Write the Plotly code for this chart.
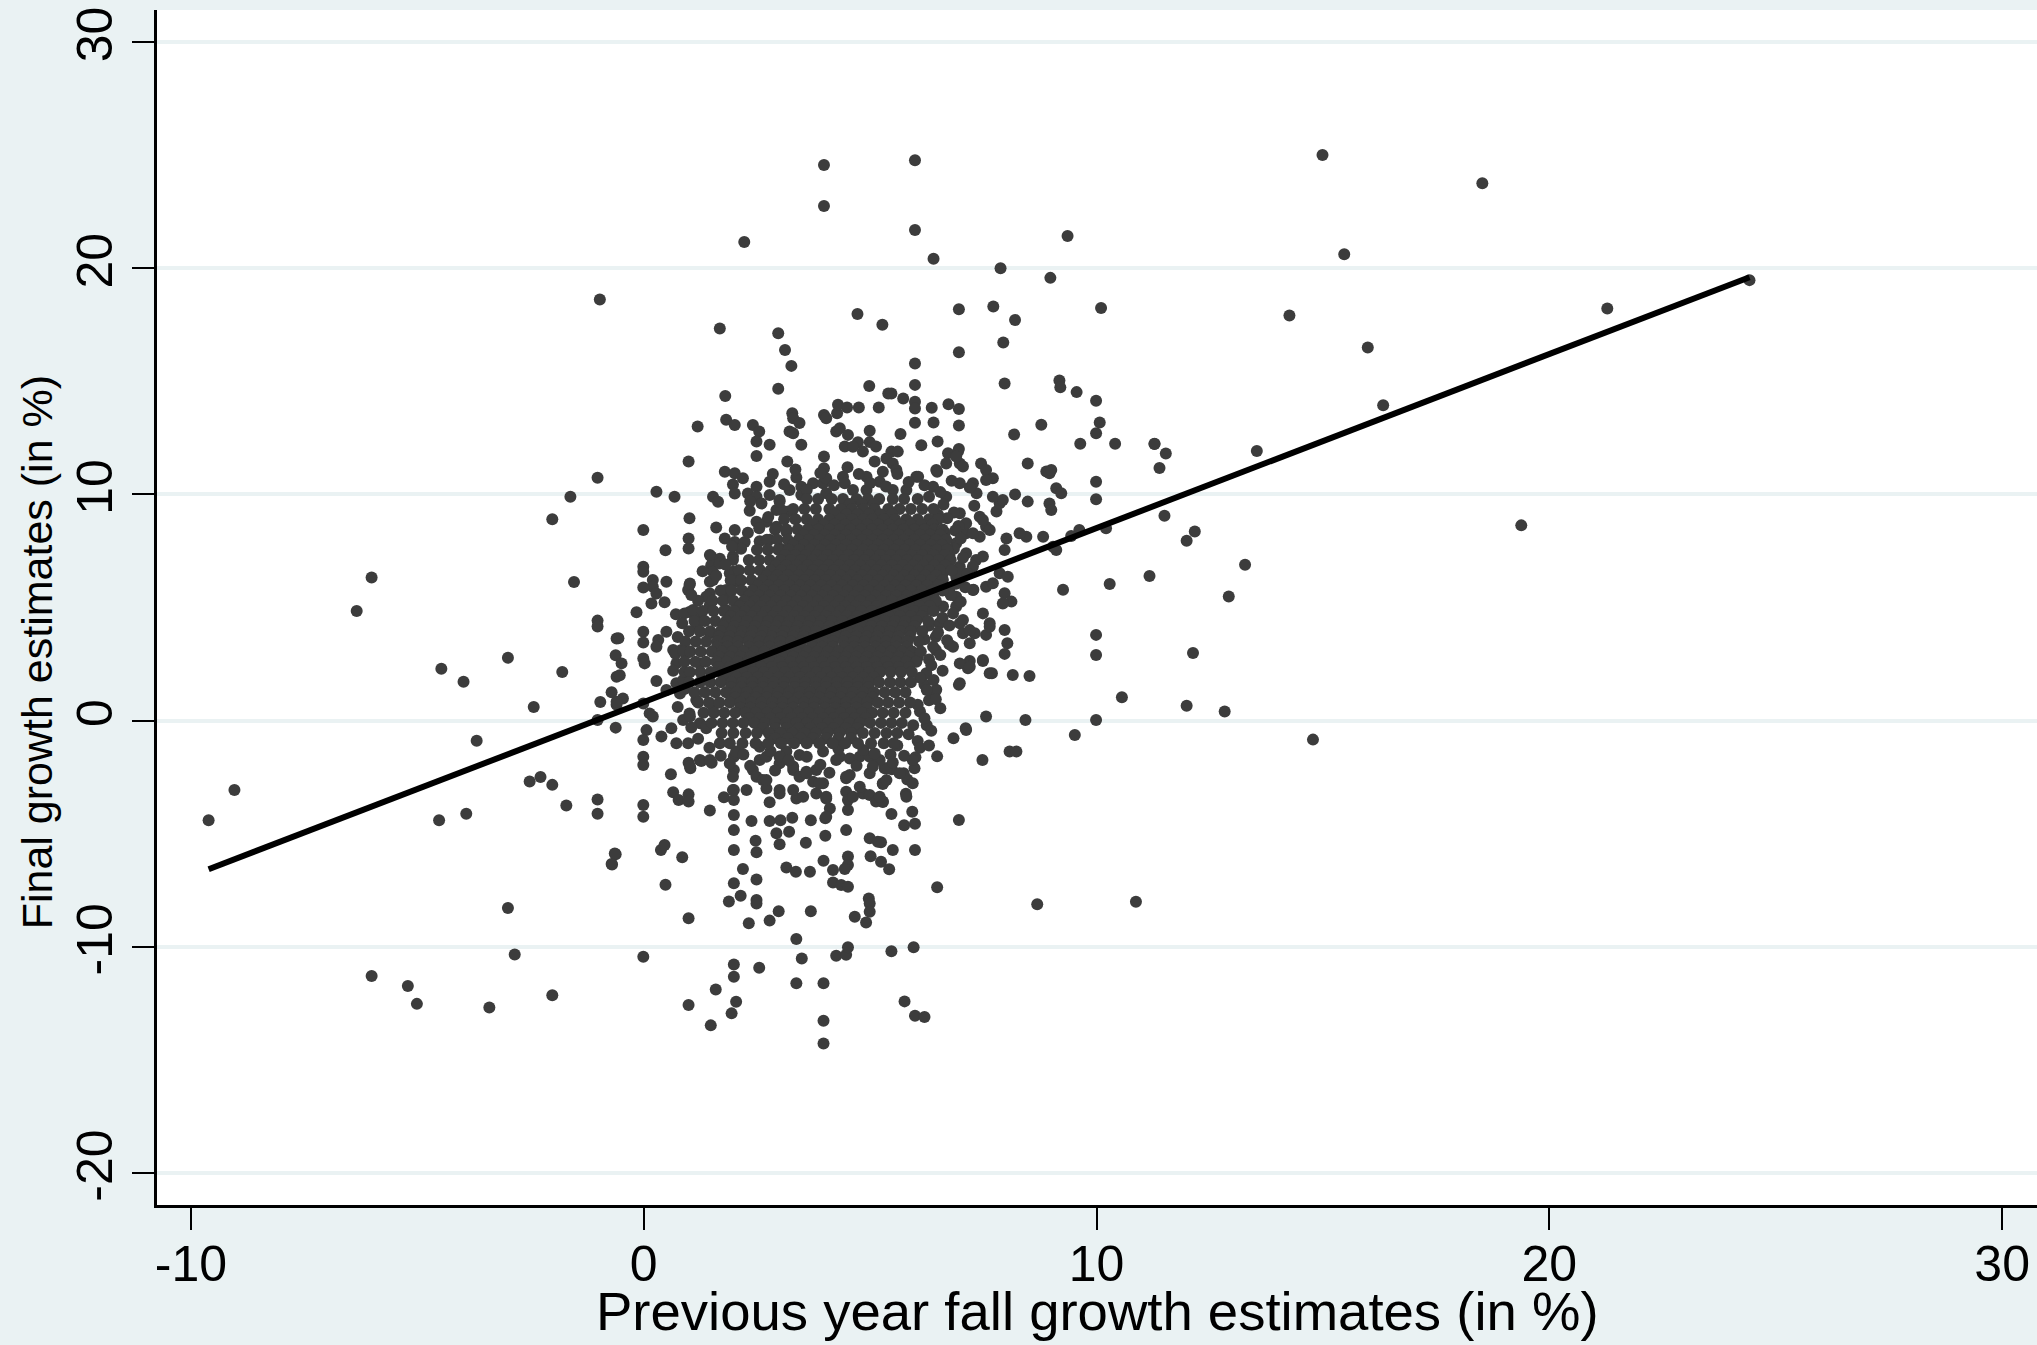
import plotly.graph_objects as go

# ---------------- data ----------------
x_ticks = [-10, 0, 10, 20, 30]
x_tick_labels = ["-10", "0", "10", "20", "30"]
y_ticks = [-20, -10, 0, 10, 20, 30]
y_tick_labels = ["-20", "-10", "0", "10", "20", "30"]

x_title = "Previous year fall growth estimates (in %)"
y_title = "Final growth estimates (in %)"

# fitted line end points (min x .. max x of the data)
fit_x = [-9.61, 24.42]
fit_y = [-6.57, 19.60]

outliers_left = [
    (-1.02, 10.74), (-1.62, 9.90), (-2.02, 8.90), (-6.01, 6.33), (-6.34, 4.85), (-1.54, 6.13),
    (-1.02, 4.42), (-1.02, 4.16), (-0.60, 3.63), (-0.62, 2.89), (-0.60, 1.94), (-4.47, 2.29),
    (-3.98, 1.72), (-3.00, 2.78), (-1.80, 2.15), (-0.71, 1.25), (-0.96, 0.82), (-0.60, 0.70),
    (-2.43, 0.60), (-1.02, 0.03), (-0.62, -0.31), (-3.69, -0.89), (-9.04, -3.07), (-9.61, -4.40),
    (-2.52, -2.69), (-2.28, -2.49), (-2.02, -2.84), (-1.71, -3.75), (-1.02, -3.49), (-1.02, -4.12),
    (-4.52, -4.40), (-3.92, -4.12), (-0.62, -5.91), (-0.71, -6.34), (-3.00, -8.28), (-2.85, -10.34),
    (-6.01, -11.29), (-5.21, -11.73), (-5.01, -12.52), (-3.41, -12.68), (-2.02, -12.14),
]

outliers_right = [
    (14.99, 25.0), (18.52, 23.75), (15.47, 20.61), (14.26, 17.91), (15.99, 16.49), (21.28, 18.22),
    (24.42, 19.47), (16.33, 13.94), (11.28, 12.23), (11.53, 11.81), (11.39, 11.17), (13.54, 11.92),
    (11.50, 9.06), (12.17, 8.36), (11.99, 7.95), (13.28, 6.89), (11.17, 6.39), (12.92, 5.49),
    (19.38, 8.63), (12.13, 2.99), (11.99, 0.66), (12.83, 0.40), (14.78, -0.84),
]

upper_points = [
    (3.98, 24.56), (3.98, 22.75), (2.22, 21.16), (-0.97, 18.61), (1.68, 17.33), (2.97, 17.12),
    (3.12, 16.38), (3.26, 15.68), (2.97, 14.67), (1.80, 14.35), (4.72, 17.97), (5.27, 17.50),
    (4.98, 14.79), (5.40, 14.46), (1.19, 13.00), (1.82, 13.30), (2.01, 13.07), (2.41, 13.07),
    (2.55, 12.78), (2.49, 12.34), (2.78, 12.19), (3.28, 13.59), (3.30, 13.37), (3.44, 13.15),
    (3.22, 12.78), (3.30, 12.70), (3.48, 12.19), (3.98, 13.51), (4.03, 13.37), (4.27, 13.59),
    (4.29, 13.96), (4.49, 13.84), (4.75, 13.84), (5.19, 13.84), (4.25, 12.78), (4.33, 12.92),
    (4.51, 12.63), (4.44, 12.12), (4.73, 12.30), (4.99, 12.31), (5.13, 12.12), (4.99, 12.81),
    (5.99, 24.77), (5.99, 21.69), (6.40, 20.42), (7.88, 20.00), (9.36, 21.42), (8.98, 19.57),
    (6.96, 18.18), (7.72, 18.30), (8.20, 17.71), (7.94, 16.71), (10.10, 18.24), (6.96, 16.28),
    (5.99, 15.79), (5.99, 14.84), (7.97, 14.90), (9.18, 15.03), (9.20, 14.73), (9.56, 14.52),
    (9.99, 14.14), (10.07, 13.18), (9.99, 12.70), (8.78, 13.08), (8.18, 12.65), (9.64, 12.24),
    (10.41, 12.24), (11.28, 12.24), (5.47, 14.46), (5.73, 14.24), (5.99, 14.09), (5.99, 13.80),
    (6.36, 13.83), (6.73, 13.98), (6.96, 13.77), (5.99, 13.17), (6.40, 13.18), (6.96, 13.04),
    (5.67, 12.67), (6.13, 12.17), (6.49, 12.34), (6.96, 12.01), (4.62, 12.11),
]

right_mid_points = [
    (8.48, 11.37), (8.89, 11.01), (8.96, 10.93), (9.00, 11.08), (9.99, 10.56), (9.99, 9.78),
    (8.20, 10.00), (8.48, 9.68), (9.11, 10.27), (9.22, 10.05), (8.96, 9.60), (9.00, 9.31),
    (10.21, 8.50), (9.62, 8.43), (9.44, 8.16), (8.82, 8.13), (9.11, 7.54), (9.04, 7.69),
    (8.45, 8.13), (8.30, 8.28), (8.01, 8.05), (7.97, 7.54), (9.26, 5.78), (10.29, 6.04),
    (9.99, 3.79), (9.99, 2.90), (10.56, 1.03), (9.99, 0.03), (9.52, -0.64), (8.43, 0.03),
    (7.56, 0.18), (7.11, -0.34), (6.84, -0.78), (8.15, 2.02), (8.52, 1.97), (7.69, 2.09),
    (7.97, 4.01), (8.03, 3.42), (7.97, 2.95), (7.20, 2.64), (7.49, 2.64), (7.16, 2.31),
    (6.96, 1.58), (6.42, 1.20), (6.75, 3.37), (7.49, 4.74), (7.64, 4.30), (7.31, 3.86),
    (7.56, 3.79), (7.97, 5.63), (8.12, 5.26), (7.93, 5.18), (7.56, 5.92), (7.71, 6.07),
    (7.28, 5.78), (7.86, 6.51), (8.04, 6.36), (7.79, 9.24), (7.86, 9.61), (7.93, 9.75),
    (7.45, 11.37), (7.56, 11.08), (7.71, 10.71), (7.27, 10.49), (7.35, 10.05), (6.48, 11.00),
    (6.98, 11.37), (6.98, 10.49), (6.72, 11.82), (6.94, 11.89), (7.42, 9.01), (7.56, 8.57),
    (7.42, 8.13), (6.90, 7.84), (7.12, 8.28), (7.34, 7.10), (7.49, 7.25), (6.98, 6.80),
    (6.98, 6.36), (6.75, 5.78), (6.90, 5.48), (6.90, 5.04), (6.98, 4.30), (7.05, 3.86),
    (6.53, 4.30), (6.45, 3.71), (6.45, 3.12),
]

lower_points = [
    (6.48, -1.58), (7.48, -1.74), (8.08, -1.37), (8.23, -1.37), (6.00, -1.62), (5.32, -2.11),
    (5.48, -2.15), (5.74, -2.33), (5.82, -2.60), (5.98, -2.11), (5.28, -2.80), (5.79, -3.23),
    (5.28, -3.60), (5.47, -4.13), (5.93, -4.03), (5.75, -4.62), (5.99, -4.56), (6.96, -4.39),
    (5.24, -5.38), (5.50, -5.72), (5.99, -5.72), (5.24, -6.24), (5.42, -6.57), (6.48, -7.37),
    (8.69, -8.12), (10.87, -8.01), (5.47, -10.19), (5.96, -10.02), (5.76, -12.41), (5.99, -13.04),
    (6.20, -13.10),
    (-0.01, -1.60), (-0.01, -1.96), (-0.01, -3.73), (-0.01, -4.25), (0.60, -2.37), (0.99, -1.86),
    (1.03, -2.11), (1.27, -1.79), (1.50, -1.86), (0.65, -3.17), (0.77, -3.51), (0.99, -3.26),
    (0.99, -3.58), (1.46, -3.97), (1.77, -3.39), (1.99, -3.07), (1.99, -3.51), (1.99, -4.17),
    (1.99, -4.84), (1.99, -5.72), (1.99, -2.18), (1.99, -1.60), (2.04, -1.37), (2.38, -4.44),
    (2.47, -5.31), (2.49, -5.82), (2.78, -4.44), (3.02, -4.40), (3.28, -4.29), (2.78, -3.61),
    (2.93, -4.98), (3.00, -5.46), (3.21, -4.91), (3.58, -5.40), (3.69, -4.40), (4.01, -5.09),
    (4.01, -4.32), (3.97, -6.19), (4.47, -4.84), (4.51, -6.01), (4.51, -6.38), (4.44, -6.56),
    (4.18, -6.60), (4.18, -7.16), (4.36, -7.27), (4.51, -7.34), (3.15, -6.49), (3.36, -6.68),
    (3.67, -6.68), (2.19, -6.56), (1.99, -7.19), (2.49, -7.02), (2.14, -7.74), (1.88, -8.00),
    (2.49, -7.93), (2.49, -8.08), (2.98, -8.43), (2.78, -8.84), (2.32, -8.96), (3.69, -8.43),
    (4.97, -7.86), (4.99, -8.08), (4.99, -8.45), (4.91, -8.92), (4.66, -8.67), (5.01, -5.99),
    (4.99, -5.20), (5.17, -5.35), (0.99, -8.74), (0.48, -7.25), (0.38, -5.72), (0.46, -5.50),
    (0.85, -6.04), (-0.64, -5.87), (-0.70, -6.36), (-0.01, -10.44), (1.99, -10.78), (1.99, -11.32),
    (2.55, -10.92), (1.59, -11.88), (0.99, -12.57), (2.04, -12.43), (1.94, -12.94), (1.48, -13.47),
    (3.37, -9.65), (3.49, -10.51), (3.37, -11.61), (3.97, -11.61), (4.25, -10.39), (4.47, -10.35),
    (4.51, -10.02), (3.97, -13.27), (3.97, -14.27),
    (2.41, -2.18), (2.56, -1.74), (2.71, -1.60), (3.00, -1.89), (2.49, -2.48), (2.63, -2.63),
    (2.71, -3.00), (3.00, -3.07), (3.30, -2.18), (3.44, -2.48), (3.59, -2.26), (3.81, -2.18),
    (3.74, -2.70), (3.96, -2.77), (3.81, -3.22), (4.03, -3.44), (4.11, -3.88), (4.03, -4.25),
    (3.37, -3.44), (3.52, -3.36), (3.30, -3.07), (4.47, -2.55), (4.55, -2.40), (4.47, -3.14),
    (4.51, -3.51), (4.51, -3.95), (4.84, -3.22), (4.99, -3.29), (5.13, -3.58), (5.28, -3.58),
    (5.28, -2.77), (4.99, -2.33), (5.13, -1.74), (5.36, -2.11), (4.33, -1.60), (4.55, -1.67),
    (4.77, -1.60), (4.99, -1.60), (5.21, -1.74), (3.96, -1.37), (3.44, -1.52), (3.15, -1.37),
]

left_halo_points = [
    (0.99, 11.45), (2.49, 11.70), (3.17, 11.45), (3.98, 11.67), (3.98, 11.15), (1.79, 11.00),
    (2.01, 10.93), (2.19, 10.71), (1.97, 10.44), (2.01, 10.04), (2.30, 10.04), (2.49, 10.34),
    (2.49, 9.90), (2.78, 10.56), (2.78, 9.97), (3.00, 9.75), (3.37, 10.75), (3.48, 10.34),
    (3.48, 9.97), (3.74, 10.49), (3.96, 10.49), (4.03, 10.05), (0.28, 10.12), (0.68, 9.90),
    (1.53, 9.90), (1.64, 9.67), (2.34, 9.28), (2.93, 9.31), (3.19, 9.24), (1.01, 8.94),
    (-0.01, 8.43), (1.60, 8.54), (2.01, 8.43), (2.49, 8.79), (2.71, 8.79), (2.93, 8.57),
    (3.15, 8.35), (1.79, 8.05), (2.01, 7.90), (2.23, 7.90), (0.99, 8.05), (0.99, 7.61),
    (0.48, 7.53), (2.56, 7.93), (2.78, 8.00), (3.00, 7.62), (3.22, 7.69), (1.49, 7.25),
    (1.68, 7.15), (1.97, 7.25), (1.97, 7.10), (-0.01, 6.80), (-0.01, 6.58), (1.49, 6.87),
    (1.53, 6.58), (1.97, 6.58), (2.05, 6.14), (0.20, 6.22), (0.50, 6.14), (0.20, 5.92),
    (0.28, 5.62), (-0.01, 5.88), (1.01, 5.99), (0.98, 5.77), (1.46, 6.14), (1.46, 5.62),
    (1.82, 5.77), (0.17, 5.18), (0.46, 5.23), (-0.16, 4.79), (0.71, 4.70), (1.01, 4.80),
    (1.24, 4.74), (1.46, 5.11), (1.82, 4.89), (-0.01, 3.93), (0.50, 3.93), (-0.56, 3.64),
    (-0.01, 3.45), (0.32, 3.56), (0.28, 3.27), (0.65, 3.12), (0.83, 3.12), (-0.01, 2.75),
    (0.02, 2.53), (-0.49, 2.53), (-0.53, 2.01), (0.72, 2.53), (0.28, 1.75), (-0.46, 0.98),
    (-0.60, 0.83), (-0.01, 0.76), (0.13, 0.32), (0.72, 1.65), (0.80, 1.20), (0.50, 1.35),
    (0.06, -0.42), (-0.01, -0.86), (0.20, 0.18), (0.39, -0.70), (0.61, -0.34), (0.72, -1.00),
    (0.98, -1.00), (0.87, 0.03), (1.01, 0.32), (1.24, -0.12), (1.38, -0.34),
]

core_halo_points = [
    (5.47, 11.89), (5.61, 11.89), (5.36, 11.59), (5.50, 11.37), (4.84, 11.89), (5.10, 11.45),
    (4.40, 10.78), (4.92, 10.78), (5.28, 11.00), (5.58, 11.08), (6.02, 10.78), (3.04, 9.31),
    (3.22, 10.19), (3.00, 9.68), (4.03, 10.71), (4.44, 10.49), (4.62, 10.19), (4.92, 10.19),
    (5.21, 10.56), (5.50, 10.19), (5.80, 10.19), (6.06, 10.78), (6.39, 10.34), (6.68, 9.90),
    (7.56, 10.64), (7.71, 9.90), (6.46, 11.08), (6.68, 11.37), (6.90, 11.67), (7.05, 11.23),
    (6.98, 9.17), (7.12, 8.72), (7.27, 8.28), (7.49, 8.87), (7.64, 8.43), (7.12, 7.40),
    (7.27, 6.81), (6.90, 6.36), (7.27, 5.77), (6.61, 5.04), (6.83, 4.74), (7.05, 4.45),
    (7.20, 4.00), (7.64, 4.15), (7.20, 3.42), (6.83, 3.27), (6.98, 2.53), (7.20, 2.38),
    (7.49, 2.68), (7.64, 2.09), (6.98, 1.65), (6.46, 1.36), (6.24, 2.09), (6.39, 3.27),
    (1.02, 6.06), (0.90, 4.74), (1.09, 4.89), (1.46, 7.32), (1.68, 6.95), (1.53, 6.21),
    (1.90, 6.51), (2.05, 6.21), (1.82, 5.63), (1.38, 5.48), (1.16, 4.15), (1.46, 3.86),
    (1.75, 3.27), (0.94, 2.97), (1.24, 2.53), (0.87, 1.80), (1.16, 0.91), (1.53, 0.62),
    (1.02, 0.18), (1.38, -0.27), (1.68, -1.00), (1.24, -1.74), (1.46, -1.74), (1.02, -2.03),
    (1.97, -2.48), (2.27, -3.07), (1.97, -3.07), (2.56, -1.15), (3.00, -1.59), (3.30, -2.03),
    (3.59, -2.33), (3.88, -2.77), (4.25, -1.74), (4.47, -2.48), (4.77, -2.92), (5.06, -2.03),
    (5.36, -2.63), (5.65, -2.33), (5.94, -1.74), (5.94, -2.77), (2.71, -2.63), (3.00, -3.22),
    (4.03, -3.36), (4.62, -3.36), (5.21, -3.36), (5.80, -3.36), (7.12, -0.41),
    (6.10, 0.40), (6.25, -0.20), (6.05, -0.90), (6.30, 0.90), (6.20, 1.60), (6.15, 4.70),
    (6.40, 5.60), (6.30, 2.70), (6.55, 0.55), (6.60, 6.25), (6.75, 7.30), (6.95, 8.60),
]

edge_points = [
    (6.62, 9.55), (6.85, 9.20), (6.70, 8.95), (6.88, 8.40), (7.00, 8.05), (6.85, 7.60),
    (7.05, 7.20), (6.95, 6.70), (7.15, 6.50), (6.90, 6.05), (7.10, 5.90), (6.78, 5.55),
    (7.00, 5.25), (6.60, 4.55), (6.75, 4.20), (6.50, 3.90), (6.70, 3.55), (6.55, 2.90),
    (6.35, 2.45), (6.60, 2.20), (6.40, 1.80), (6.25, 1.35), (6.45, 0.95), (6.20, 0.10),
    (6.35, -0.45), (6.10, -1.20), (6.30, -1.10), (7.30, 9.50), (7.20, 10.30), (6.80, 10.60),
    (6.55, 10.10), (6.30, 9.90), (6.20, 10.40), (5.85, 10.55), (5.60, 10.90), (5.35, 10.35),
    (5.00, 10.50), (4.75, 10.90), (4.50, 11.20), (4.20, 10.40), (3.90, 10.95), (3.60, 10.20),
    (3.35, 11.10), (3.10, 10.45), (2.85, 10.90), (2.60, 9.60), (2.35, 9.70), (2.75, 9.00),
    (2.55, 8.50), (2.30, 8.30), (2.15, 7.60), (1.95, 7.70), (1.80, 6.90), (1.60, 6.40),
    (1.30, 6.60), (1.20, 5.30), (1.05, 5.55), (0.85, 4.30), (0.75, 3.70), (0.70, 2.95),
    (0.65, 2.20), (0.90, 1.40), (0.75, 0.60), (1.05, -0.30), (1.20, -0.80), (1.45, -1.20),
    (1.70, -1.55), (1.90, -1.90), (2.20, -1.50), (2.35, -2.00), (2.80, -1.35), (2.90, -2.20),
    (3.20, -1.75), (3.60, -1.60), (3.90, -1.95), (4.10, -2.30), (4.30, -1.25), (4.70, -2.00),
    (4.85, -1.30), (5.10, -1.45), (5.45, -1.50), (5.60, -1.10), (5.75, -1.55), (5.50, -1.85),
    (5.85, -0.60), (5.95, -0.20), (6.05, 0.70), (6.10, 1.90), (6.05, 2.80), (6.20, 3.60),
    (6.30, 4.20), (6.45, 5.20), (6.50, 5.90), (6.60, 6.50), (6.70, 7.60), (6.65, 8.30),
    (6.50, 9.10),
]

# dense core: rows of the solid blob (y value of the row, x values along it)
core_row_y = [9.8, 9.57, 9.35, 9.12, 8.9, 8.67, 8.45, 8.22, 8.0, 7.77, 7.55, 7.32, 7.1, 6.87,
              6.65, 6.42, 6.2, 5.97, 5.75, 5.52, 5.3, 5.07, 4.85, 4.62, 4.4, 4.17, 3.95, 3.72,
              3.5, 3.27, 3.05, 2.82, 2.6, 2.37, 2.15, 1.92, 1.7, 1.47, 1.25, 1.02, 0.8, 0.57,
              0.35, 0.12, -0.1, -0.33, -0.55, -0.78, -1.0]
core_row_x = [
    [3.6, 3.85, 4.15, 4.4, 4.7, 4.95, 5.2, 5.5, 5.75, 6.05],
    [4.55, 4.82, 5.08],
    [3.3, 3.55, 3.8, 4.1, 4.35, 4.6, 4.85, 5.1, 5.4, 5.65, 5.9, 6.15, 6.4],
    [4.22, 4.48, 4.72, 4.98, 5.22, 5.48],
    [3.1, 3.35, 3.6, 3.85, 4.1, 4.35, 4.6, 4.85, 5.05, 5.3, 5.55, 5.8, 6.05, 6.3, 6.5],
    [3.74, 3.98, 4.22, 4.46, 4.7, 4.94, 5.18, 5.42, 5.66, 5.9, 6.12, 6.38],
    [2.9, 3.15, 3.4, 3.62, 3.86, 4.1, 4.33, 4.57, 4.8, 5.04, 5.27, 5.5, 5.74, 5.98, 6.2, 6.42, 6.6],
    [3.53, 3.76, 4.0, 4.23, 4.46, 4.7, 4.93, 5.16, 5.4, 5.63, 5.86, 6.1, 6.33, 6.55],
    [2.72, 2.95, 3.18, 3.42, 3.65, 3.88, 4.12, 4.35, 4.58, 4.82, 5.05, 5.28, 5.52, 5.75, 5.98,
     6.22, 6.45, 6.68],
    [3.3, 3.54, 3.77, 4.0, 4.24, 4.47, 4.7, 4.94, 5.17, 5.4, 5.64, 5.87, 6.1, 6.34, 6.58],
    [2.5, 2.74, 2.97, 3.2, 3.44, 3.67, 3.9, 4.14, 4.37, 4.6, 4.84, 5.07, 5.3, 5.54, 5.77, 6.0,
     6.24, 6.47, 6.7],
    [3.12, 3.35, 3.58, 3.82, 4.05, 4.28, 4.52, 4.75, 4.98, 5.22, 5.45, 5.68, 5.92, 6.15, 6.4,
     6.65],
    [2.32, 2.55, 2.78, 3.02, 3.25, 3.48, 3.72, 3.95, 4.18, 4.42, 4.65, 4.88, 5.12, 5.35, 5.58,
     5.82, 6.05, 6.28, 6.52, 6.78],
    [2.92, 3.15, 3.38, 3.62, 3.85, 4.08, 4.32, 4.55, 4.78, 5.02, 5.25, 5.48, 5.72, 5.95, 6.18,
     6.42, 6.66],
    [2.1, 2.34, 2.57, 2.8, 3.04, 3.27, 3.5, 3.74, 3.97, 4.2, 4.44, 4.67, 4.9, 5.14, 5.37, 5.6,
     5.84, 6.07, 6.3, 6.55, 6.8],
    [2.72, 2.95, 3.18, 3.42, 3.65, 3.88, 4.12, 4.35, 4.58, 4.82, 5.05, 5.28, 5.52, 5.75, 5.98,
     6.22, 6.46],
    [1.92, 2.15, 2.38, 2.62, 2.85, 3.08, 3.32, 3.55, 3.78, 4.02, 4.25, 4.48, 4.72, 4.95, 5.18,
     5.42, 5.65, 5.88, 6.12, 6.35, 6.6],
    [2.52, 2.75, 2.98, 3.22, 3.45, 3.68, 3.92, 4.15, 4.38, 4.62, 4.85, 5.08, 5.32, 5.55, 5.78,
     6.02, 6.26, 6.5],
    [1.7, 1.94, 2.17, 2.4, 2.64, 2.87, 3.1, 3.34, 3.57, 3.8, 4.04, 4.27, 4.5, 4.74, 4.97, 5.2,
     5.44, 5.67, 5.9, 6.14, 6.38, 6.6],
    [2.32, 2.55, 2.78, 3.02, 3.25, 3.48, 3.72, 3.95, 4.18, 4.42, 4.65, 4.88, 5.12, 5.35, 5.58,
     5.82, 6.06, 6.3],
    [1.52, 1.75, 1.98, 2.22, 2.45, 2.68, 2.92, 3.15, 3.38, 3.62, 3.85, 4.08, 4.32, 4.55, 4.78,
     5.02, 5.25, 5.48, 5.72, 5.95, 6.2, 6.45],
    [2.12, 2.35, 2.58, 2.82, 3.05, 3.28, 3.52, 3.75, 3.98, 4.22, 4.45, 4.68, 4.92, 5.15, 5.38,
     5.62, 5.86, 6.1, 6.32],
    [1.3, 1.54, 1.77, 2.0, 2.24, 2.47, 2.7, 2.94, 3.17, 3.4, 3.64, 3.87, 4.1, 4.34, 4.57, 4.8,
     5.04, 5.27, 5.5, 5.74, 5.97, 6.2, 6.4],
    [1.92, 2.15, 2.38, 2.62, 2.85, 3.08, 3.32, 3.55, 3.78, 4.02, 4.25, 4.48, 4.72, 4.95, 5.18,
     5.42, 5.66, 5.9, 6.14],
    [1.12, 1.35, 1.58, 1.82, 2.05, 2.28, 2.52, 2.75, 2.98, 3.22, 3.45, 3.68, 3.92, 4.15, 4.38,
     4.62, 4.85, 5.08, 5.32, 5.55, 5.78, 6.02, 6.28],
    [1.76, 2.0, 2.23, 2.46, 2.7, 2.93, 3.16, 3.4, 3.63, 3.86, 4.1, 4.33, 4.56, 4.8, 5.03, 5.26,
     5.5, 5.74, 5.98],
    [1.0, 1.24, 1.47, 1.7, 1.94, 2.17, 2.4, 2.64, 2.87, 3.1, 3.34, 3.57, 3.8, 4.04, 4.27, 4.5,
     4.74, 4.97, 5.2, 5.44, 5.67, 5.9, 6.15],
    [1.66, 1.9, 2.13, 2.36, 2.6, 2.83, 3.06, 3.3, 3.53, 3.76, 4.0, 4.23, 4.46, 4.7, 4.93, 5.16,
     5.4, 5.63, 5.88],
    [0.92, 1.15, 1.38, 1.62, 1.85, 2.08, 2.32, 2.55, 2.78, 3.02, 3.25, 3.48, 3.72, 3.95, 4.18,
     4.42, 4.65, 4.88, 5.12, 5.35, 5.58, 5.82, 6.08],
    [1.62, 1.85, 2.08, 2.32, 2.55, 2.78, 3.02, 3.25, 3.48, 3.72, 3.95, 4.18, 4.42, 4.65, 4.88,
     5.12, 5.35, 5.58, 5.82],
    [0.88, 1.03, 1.26, 1.5, 1.73, 1.96, 2.2, 2.43, 2.66, 2.9, 3.13, 3.36, 3.6, 3.83, 4.06, 4.3,
     4.53, 4.76, 5.0, 5.23, 5.46, 5.7, 5.93, 6.12],
    [1.66, 1.9, 2.13, 2.36, 2.6, 2.83, 3.06, 3.3, 3.53, 3.76, 4.0, 4.23, 4.46, 4.7, 4.93, 5.16,
     5.4, 5.63, 5.86],
    [0.9, 1.14, 1.37, 1.6, 1.84, 2.07, 2.3, 2.54, 2.77, 3.0, 3.24, 3.47, 3.7, 3.94, 4.17, 4.4,
     4.64, 4.87, 5.1, 5.34, 5.57, 5.8, 6.02],
    [1.66, 1.9, 2.13, 2.36, 2.6, 2.83, 3.06, 3.3, 3.53, 3.76, 4.0, 4.23, 4.46, 4.7, 4.93, 5.16,
     5.4, 5.63, 5.86],
    [0.9, 1.02, 1.25, 1.48, 1.72, 1.95, 2.18, 2.42, 2.65, 2.88, 3.12, 3.35, 3.58, 3.82, 4.05,
     4.28, 4.52, 4.75, 4.98, 5.22, 5.45, 5.68, 5.92],
    [1.82, 2.05, 2.28, 2.52, 2.75, 2.98, 3.22, 3.45, 3.68, 3.92, 4.15, 4.38, 4.62, 4.85, 5.08],
    [1.0, 1.24, 1.47, 1.7, 1.94, 2.17, 2.4, 2.64, 2.87, 3.1, 3.34, 3.57, 3.8, 4.04, 4.27, 4.5,
     4.74, 4.97, 5.2, 5.44, 5.67, 5.9],
    [1.93, 2.16, 2.4, 2.63, 2.86, 3.1, 3.33, 3.56, 3.8, 4.03, 4.26, 4.5, 4.73, 4.96],
    [1.12, 1.35, 1.58, 1.82, 2.05, 2.28, 2.52, 2.75, 2.98, 3.22, 3.45, 3.68, 3.92, 4.15, 4.38,
     4.62, 4.85, 5.08, 5.32, 5.55, 5.78],
    [2.02, 2.25, 2.48, 2.72, 2.95, 3.18, 3.42, 3.65, 3.88, 4.12, 4.35, 4.58, 4.82, 5.05],
    [1.2, 1.44, 1.67, 1.9, 2.14, 2.37, 2.6, 2.84, 3.07, 3.3, 3.54, 3.77, 4.0, 4.24, 4.47, 4.7,
     4.94, 5.17, 5.4, 5.64, 5.88],
    [2.13, 2.36, 2.6, 2.83, 3.06, 3.3, 3.53, 3.76, 4.0, 4.23, 4.46, 4.7, 4.93],
    [1.32, 1.55, 1.78, 2.02, 2.25, 2.48, 2.72, 2.95, 3.18, 3.42, 3.65, 3.88, 4.12, 4.35, 4.58,
     4.82, 5.05, 5.28, 5.52, 5.78],
    [2.33, 2.56, 2.8, 3.03, 3.26, 3.5, 3.73, 3.96, 4.2, 4.43, 4.66, 4.9],
    [1.5, 1.74, 1.97, 2.2, 2.44, 2.67, 2.9, 3.14, 3.37, 3.6, 3.84, 4.07, 4.3, 4.54, 4.77, 5.0,
     5.24, 5.47, 5.7],
    [2.63, 2.9, 3.16, 3.42, 3.68, 3.94, 4.2, 4.46, 4.72],
    [1.72, 1.98, 2.25, 2.5, 2.76, 3.02, 3.28, 3.55, 3.8, 4.06, 4.32, 4.58, 4.84, 5.1, 5.36, 5.6],
    [2.9, 3.18, 3.46, 3.74, 4.02, 4.3, 4.58],
    [1.9, 2.18, 2.47, 2.75, 3.03, 3.32, 3.6, 3.88, 4.17, 4.45, 4.73, 5.02, 5.3, 5.52],
]

# ---------------- assemble ----------------
pts = (outliers_left + outliers_right + upper_points + right_mid_points + lower_points
       + left_halo_points + core_halo_points + edge_points)
for ry, xs in zip(core_row_y, core_row_x):
    for rx in xs:
        pts.append((rx, ry))

sx = [p[0] for p in pts]
sy = [p[1] for p in pts]

FONT = "Liberation Sans, Arial, Helvetica, sans-serif"
BG = "#EAF2F3"

fig = go.Figure()
fig.add_trace(go.Scatter(
    x=sx, y=sy, mode="markers",
    marker=dict(size=12, color="#3c3c3c", line=dict(width=0)),
    showlegend=False, hoverinfo="skip",
))
fig.add_trace(go.Scatter(
    x=fit_x, y=fit_y, mode="lines",
    line=dict(color="black", width=6),
    showlegend=False, hoverinfo="skip",
))

fig.update_layout(
    width=2037, height=1345,
    margin=dict(l=157, r=0, t=10, b=140, pad=0),
    paper_bgcolor=BG, plot_bgcolor="white",
    font=dict(family=FONT, color="black"),
    xaxis=dict(
        range=[-10.75, 30.77], tickmode="array", tickvals=x_ticks, ticktext=x_tick_labels,
        ticks="outside", ticklen=22, tickwidth=2, tickcolor="black",
        showline=True, linecolor="black", linewidth=3, ticklabelstandoff=-9,
        showgrid=False, zeroline=False, automargin=False,
        tickfont=dict(size=50, family=FONT, color="black"),
    ),
    yaxis=dict(
        range=[-21.41, 31.41], tickmode="array", tickvals=y_ticks, ticktext=y_tick_labels,
        ticks="outside", ticklen=22, tickwidth=2, tickcolor="black", tickangle=-90,
        showline=True, linecolor="black", linewidth=3,
        showgrid=True, gridcolor=BG, gridwidth=4, zeroline=False, automargin=False,
        tickfont=dict(size=50, family=FONT, color="black"),
    ),
    annotations=[
        dict(text=x_title, xref="paper", yref="paper", x=0.5, y=0, xanchor="center",
             yanchor="top", yshift=-74, showarrow=False,
             font=dict(size=54.5, family=FONT, color="black")),
        dict(text=y_title, xref="paper", yref="paper", x=0, y=0.4625, xanchor="center",
             yanchor="middle", xshift=-120, textangle=-90, showarrow=False,
             font=dict(size=43, family=FONT, color="black")),
    ],
)

fig.write_html(
    "out.html",
    config={"displayModeBar": False},
    post_script="document.body.style.margin='0px';document.body.style.overflow='hidden';"
                "document.body.style.background='" + BG + "';",
)
